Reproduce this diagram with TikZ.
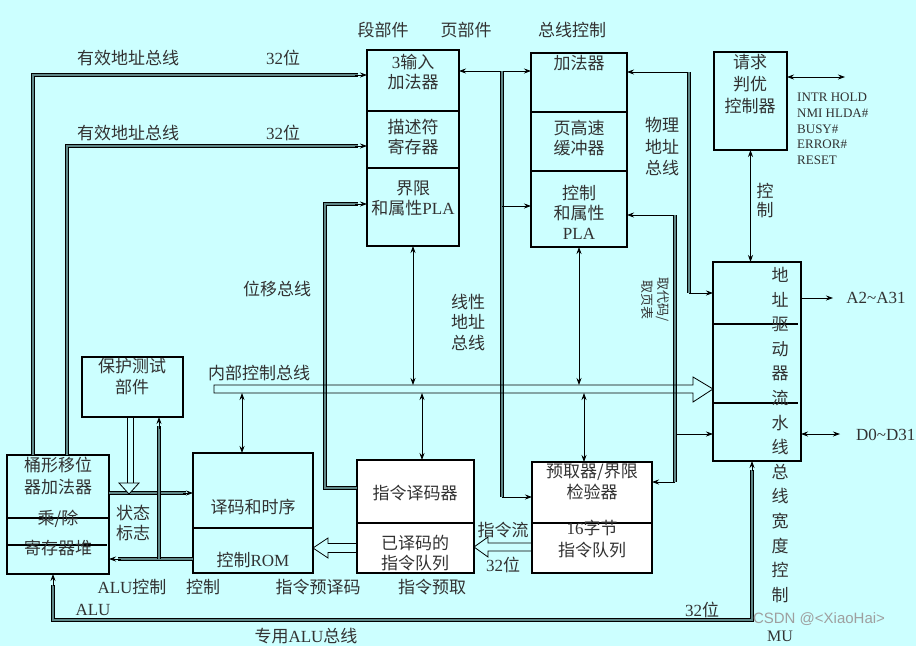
\documentclass[tikz,border=0pt]{standalone}
\usepackage{fontspec}
\setmainfont{Liberation Serif}
\newfontfamily\cjk{Noto Sans CJK SC}
\newfontfamily\wmfont{Liberation Sans}
\usetikzlibrary{arrows.meta,calc}
\definecolor{bg}{RGB}{204,255,255}
\definecolor{txt}{RGB}{50,50,50}
\definecolor{dblmid}{RGB}{95,135,135}
\newcommand\lat[1]{{\rmfamily #1}}
\begin{document}
\begin{tikzpicture}[x=1pt,y=-1pt,
  >={Stealth[length=7pt,width=5pt]},
  box/.style={draw, line width=1.4pt, inner sep=0pt, outer sep=0pt},
  lbl/.style={text=txt, font=\cjk\fontsize{17}{20}\selectfont, align=center, inner sep=0pt},
  sig/.style={text=txt, font=\rmfamily\fontsize{13}{15.7}\selectfont, align=left, inner sep=0pt},
  arr/.style={line width=0.8pt, ->},
  darr/.style={line width=0.8pt, <->},
  dbl/.style={line width=0.75pt, double=dblmid, double distance=1.7pt},
  hol/.style={line width=0.8pt},
  divl/.style={line width=1.4pt}]
\fill[bg] (0,0) rectangle (916,646);
\useasboundingbox (0,0) rectangle (916,646);

% ---------- boxes ----------
\node[box, minimum width=92, minimum height=196] (seg) at (413,148) {};
\node[box, minimum width=96, minimum height=194] (pg) at (579,150) {};
\node[box, minimum width=73, minimum height=98] (req) at (750.5,101) {};
\node[box, minimum width=88, minimum height=199] (adr) at (757,361.5) {};
\node[box, line width=1.2pt, minimum width=101, minimum height=60] (prot) at (132.5,387) {};
\node[box, minimum width=102, minimum height=119] (barrel) at (58,514.5) {};
\node[box, minimum width=120, minimum height=120] (dec) at (253,513) {};
\node[box, fill=white, minimum width=117, minimum height=113] (idec) at (415.5,516.5) {};
\node[box, fill=white, minimum width=120, minimum height=111] (pref) at (592,517.5) {};

% ---------- dividers ----------
\draw[divl] (seg.west |- 0,111) -- (seg.east |- 0,111);
\draw[line width=2pt] (seg.west |- 0,168) -- (seg.east |- 0,168);
\draw[divl] (pg.west |- 0,112) -- (pg.east |- 0,112);
\draw[divl] (pg.west |- 0,171) -- (pg.east |- 0,171);
\draw[line width=2pt] (adr.west |- 0,324) -- (798,324);
\draw[line width=2pt] (adr.west |- 0,403) -- (798,403);
\draw[divl] (barrel.west |- 0,518) -- (barrel.east |- 0,518);
\draw[divl] (barrel.west |- 0,545) -- (107,545);
\draw[divl] (dec.west |- 0,528) -- (dec.east |- 0,528);
\draw[divl] (idec.west |- 0,523) -- (idec.east |- 0,523);
\draw[divl] (pref.west |- 0,523) -- (pref.east |- 0,523);

% ---------- effective address buses ----------
\draw[dbl] (33,0 |- barrel.north) -- (33,75) -- (358,75);
\draw[arr] (355,75) -- (seg.west |- 0,75);
\draw[dbl] (67,0 |- barrel.north) -- (67,146) -- (358,146);
\draw[arr] (355,146) -- (seg.west |- 0,146);

% ---------- displacement bus ----------
\draw[dbl] (idec.west |- 0,488) -- (325,488) -- (325,204) -- (358,204);
\draw[arr] (355,204) -- (seg.west |- 0,204);

% ---------- linear address bus ----------
\draw[darr] (seg.east |- 0,71) -- (pg.west |- 0,71);
\draw[dbl] (502,71) -- (502,497);
\draw[arr] (502,497) -- (pref.west |- 0,497);
\draw[arr] (502,206) -- (pg.west |- 0,206);

% ---------- physical address bus ----------
\draw[arr] (689,72) -- (pg.east |- 0,72);
\draw[dbl] (689,72) -- (689,293);
\draw[arr] (689,293) -- (adr.west |- 0,293);

% ---------- code / page table fetch ----------
\draw[arr] (675,215) -- (pg.east |- 0,215);
\draw[dbl] (675,215) -- (675,482);
\draw[arr] (675,482) -- (pref.east |- 0,482);
\draw[arr] (677,434) -- (adr.west |- 0,434);

% ---------- request / address driver ----------
\coordinate (sigEnd) at (845,77);
\coordinate (aOut) at (833,298);
\coordinate (dOut) at (840,434);
\draw[darr] (req.east |- sigEnd) -- (sigEnd);
\draw[darr] (req.south) -- (req.south |- adr.north);
\draw[arr] (adr.east |- aOut) -- (aOut);
\draw[darr] (adr.east |- dOut) -- (dOut);

% ---------- internal control bus ----------
\draw[hol] (214,385) -- (693,385) -- (693,377) -- (adr.west |- 0,389) -- (693,402) -- (693,393) -- (214,393) -- cycle;
\draw[darr] (seg.south) -- (seg.south |- 0,385);
\draw[darr] (pg.south) -- (pg.south |- 0,385);
\draw[darr] (242,393) -- (242,0 |- dec.north);
\draw[darr] (422,393) -- (422,0 |- idec.north);
\draw[darr] (584,393) -- (584,0 |- pref.north);

% ---------- ALU side ----------
\draw[dbl] (barrel.east |- 0,493) -- (186,493);
\draw[arr] (183,493) -- (dec.west |- 0,493);
\draw[line width=0.8pt] (127,0 |- prot.south) -- (127,483);
\draw[line width=0.8pt] (133,0 |- prot.south) -- (133,483);
\draw[line width=0.8pt, fill=bg] (119,483) -- (139,483) -- (129,494) -- cycle;
\draw[dbl] (dec.west |- 0,559) -- (118,559);
\draw[arr] (121,559) -- (barrel.east |- 0,559);
\draw[dbl] (159,559) -- (159,426);
\draw[arr] (159,429) -- (159,0 |- prot.south);

% ---------- hollow instruction arrows ----------
\draw[hol] (idec.west |- 0,543.5) -- (328,543.5) -- (328,538) -- (dec.east |- 0,548) -- (328,558) -- (328,552.5) -- (idec.west |- 0,552.5);
\draw[hol] (pref.west |- 0,543) -- (488,543) -- (488,537) -- (idec.east |- 0,547) -- (488,557) -- (488,551) -- (pref.west |- 0,551);

% ---------- dedicated ALU bus ----------
\draw[dbl] (53,585) -- (53,620) -- (752,620) -- (752,470);
\draw[arr] (53,586) -- (53,0 |- barrel.south);
\draw[arr] (752,471) -- (752,0 |- adr.south);

% ---------- texts ----------
\node[lbl] (hSeg) at (383,30) {段部件};
\node[lbl] (hPg) at (466,30) {页部件};
\node[lbl] (hBus) at (572,30) {总线控制};

\node[lbl] (s1) at (413,72) {\lat{3}输入\\加法器};
\node[lbl] (s2) at (413,137) {描述符\\寄存器};
\node[lbl] (s3) at (413,198) {界限\\和属性\lat{PLA}};

\node[lbl] (p1) at (579,63) {加法器};
\node[lbl] (p2) at (579,138) {页高速\\缓冲器};
\node[lbl] (p3) at (579,212) {控制\\和属性\\\lat{PLA}};

\node[lbl, font=\cjk\fontsize{17}{22}\selectfont] (r1) at (750,84) {请求\\判优\\控制器};
\node[sig, anchor=west] (sg) at (797,129) {INTR HOLD\\NMI HLDA\#\\BUSY\#\\ERROR\#\\RESET};
\node[lbl, font=\cjk\fontsize{17}{19}\selectfont] (ctl) at (765,201) {控\\制};

\node[lbl, font=\cjk\fontsize{17}{21.5}\selectfont] (phy) at (662,147) {物理\\地址\\总线};
\node[lbl, font=\cjk\fontsize{13}{16}\selectfont, rotate=-90] (fetch) at (655,300) {取代码/\\取页表};
\node[lbl, font=\cjk\fontsize{17}{20.5}\selectfont] (lin) at (468,322) {线性\\地址\\总线};
\node[lbl] (disp) at (277,289) {位移总线};

\node[lbl] (ea1) at (128,58) {有效地址总线};
\node[lbl] (ea1w) at (283,58) {\lat{32}位};
\node[lbl] (ea2) at (128,133) {有效地址总线};
\node[lbl] (ea2w) at (283,133) {\lat{32}位};

\node[lbl] (icb) at (259,373) {内部控制总线};

\node[lbl, font=\cjk\fontsize{17}{21}\selectfont] (pt) at (132,377) {保护测试\\部件};

\node[lbl] (b1) at (58,465) {桶形移位};
\node[lbl] (b2) at (58,487) {器加法器};
\node[lbl] (b3) at (58,519) {乘/除};
\node[lbl] (b4) at (58,548) {寄存器堆};

\node[lbl] (flag) at (133,523) {状态\\标志};

\node[lbl] (d1) at (253,507) {译码和时序};
\node[lbl] (d2) at (253,560) {控制\lat{ROM}};

\node[lbl] (i1) at (415,493) {指令译码器};
\node[lbl] (i2) at (415,553) {已译码的\\指令队列};

\node[lbl, font=\cjk\fontsize{17}{21}\selectfont] (f1) at (592,482) {预取器/界限\\检验器};
\node[lbl, font=\cjk\fontsize{17}{22}\selectfont] (f2) at (592,539) {\lat{16}字节\\指令队列};

\node[lbl] (istr) at (503,530) {指令流};
\node[lbl] (istrw) at (503,565) {\lat{32}位};

\node[lbl] (aluc) at (132,587) {\lat{ALU}控制};
\node[lbl] (ctl2) at (203,587) {控制};
\node[lbl] (ipd) at (318,587) {指令预译码};
\node[lbl] (ipf) at (432,587) {指令预取};

\node[lbl] (alu) at (93,610) {\lat{ALU}};
\node[lbl] (aluw) at (702,610) {\lat{32}位};
\node[lbl] (alub) at (306,636) {专用\lat{ALU}总线};

\node[lbl, font=\cjk\fontsize{17}{24.6}\selectfont] (col) at (780,435)
  {地\\址\\驱\\动\\器\\流\\水\\线\\总\\线\\宽\\度\\控\\制};
\node[lbl, font=\rmfamily\fontsize{16}{19}\selectfont] (mu) at (780,636) {MU};

\node[lbl, font=\rmfamily\fontsize{17}{20}\selectfont] (a2) at (876,298) {A2\textasciitilde A31};
\node[lbl, font=\rmfamily\fontsize{17}{20}\selectfont, anchor=west] (d0) at (856,435) {D0\textasciitilde D31};

\node[text=gray!75, font=\wmfont\fontsize{15}{18}\selectfont, inner sep=0pt] (wm) at (819,619) {CSDN @<XiaoHai>};
\end{tikzpicture}
\end{document}
